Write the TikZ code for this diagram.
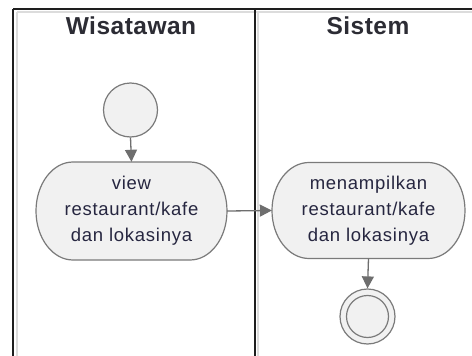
\documentclass[tikz,border=0pt]{standalone}
\usepackage{fontspec}
\setmainfont{Liberation Sans}
\newfontfamily\lanefont{Liberation Sans}[LetterSpace=2]
\newfontfamily\actfont{Liberation Sans}[LetterSpace=4]
\usetikzlibrary{arrows.meta}
\definecolor{lineblk}{HTML}{1E1E1E}
\definecolor{shadowgray}{HTML}{DCDCDC}
\definecolor{shapeedge}{HTML}{7A7A7A}
\definecolor{shapefill}{HTML}{F1F1F1}
\definecolor{txt}{HTML}{262640}
\definecolor{titletxt}{HTML}{2C2C34}
\definecolor{flowgray}{HTML}{6E6E6E}
% pill outline with half-elliptical ends: centre x, centre y, half width, half height, end radius
\newcommand\pilloutline[5]{%
  \pgfmathsetmacro\pillL{#1-#3}\pgfmathsetmacro\pillR{#1+#3}%
  \pgfmathsetmacro\pillT{#2-#4}\pgfmathsetmacro\pillB{#2+#4}%
  \pgfmathsetmacro\pillLi{#1-#3+#5}\pgfmathsetmacro\pillRi{#1+#3-#5}%
  \pgfmathsetmacro\pillLc{#1-#3+#5*0.4477}\pgfmathsetmacro\pillRc{#1+#3-#5*0.4477}%
  \pgfmathsetmacro\pillTc{#2-#4*0.5523}\pgfmathsetmacro\pillBc{#2+#4*0.5523}%
  \draw[pillstyle] (\pillLi,\pillT) -- (\pillRi,\pillT)
    .. controls (\pillRc,\pillT) and (\pillR,\pillTc) .. (\pillR,#2)
    .. controls (\pillR,\pillBc) and (\pillRc,\pillB) .. (\pillRi,\pillB)
    -- (\pillLi,\pillB)
    .. controls (\pillLc,\pillB) and (\pillL,\pillBc) .. (\pillL,#2)
    .. controls (\pillL,\pillTc) and (\pillLc,\pillT) .. cycle;}
\begin{document}
\begin{tikzpicture}[x=1pt,y=-1pt,
  lanetitle/.style={font=\lanefont\bfseries\fontsize{24.5}{28}\selectfont, text=titletxt, inner sep=0pt},
  pillstyle/.style={draw=shapeedge, line width=1.2pt, fill=shapefill},
  actbox/.style={align=center, text=txt, inner sep=0pt,
    font=\actfont\fontsize{18.5}{26}\selectfont},
  startnode/.style={circle, draw=shapeedge, line width=1.2pt, fill=shapefill, inner sep=0pt},
  flow/.style={draw=flowgray, line width=1.3pt, -{Triangle[length=12pt,width=12pt]}}
]
\useasboundingbox (0,0) rectangle (472,356);
\fill[white] (0,0) rectangle (472,356);

% swimlane frame with its light shadow
\draw[shadowgray, line width=2pt] (17,12) -- (472,12);
\draw[shadowgray, line width=2pt] (17,12) -- (17,356);
\draw[shadowgray, line width=2pt] (258,12) -- (258,356);
\draw[lineblk, line width=2pt] (13,8.5) -- (472,8.5);
\draw[lineblk, line width=2pt] (13,8.5) -- (13,356);
\draw[lineblk, line width=2pt] (254.5,8.5) -- (254.5,356);

% lane titles
\node[lanetitle] (laneA) at (131,26) {Wisatawan};
\node[lanetitle] (laneB) at (368,26) {Sistem};

% activity outlines
\pilloutline{131.5}{211}{95.5}{49}{37}
\pilloutline{368.5}{210.5}{96.5}{48}{37}

% nodes
\node[startnode, minimum size=54pt] (start) at (130.5,110) {};
\node[actbox, minimum width=191pt, minimum height=98pt] (view) at (131.5,211)
  {view\\restaurant/kafe\\dan lokasinya};
\node[actbox, minimum width=193pt, minimum height=96pt] (show) at (368.5,210.5)
  {menampilkan\\restaurant/kafe\\dan lokasinya};
\node[startnode, minimum size=55pt] (stop) at (367.5,316.5) {};
\node[circle, draw=shapeedge, line width=1.2pt, fill=shapefill, inner sep=0pt,
  minimum size=42pt] (stopin) at (stop.center) {};

% control flow
\draw[flow] (start.south) -- (view.north);
\draw[flow] (view.east) -- (show.west);
\draw[flow] (show.south) -- (stop.north);
\end{tikzpicture}
\end{document}
